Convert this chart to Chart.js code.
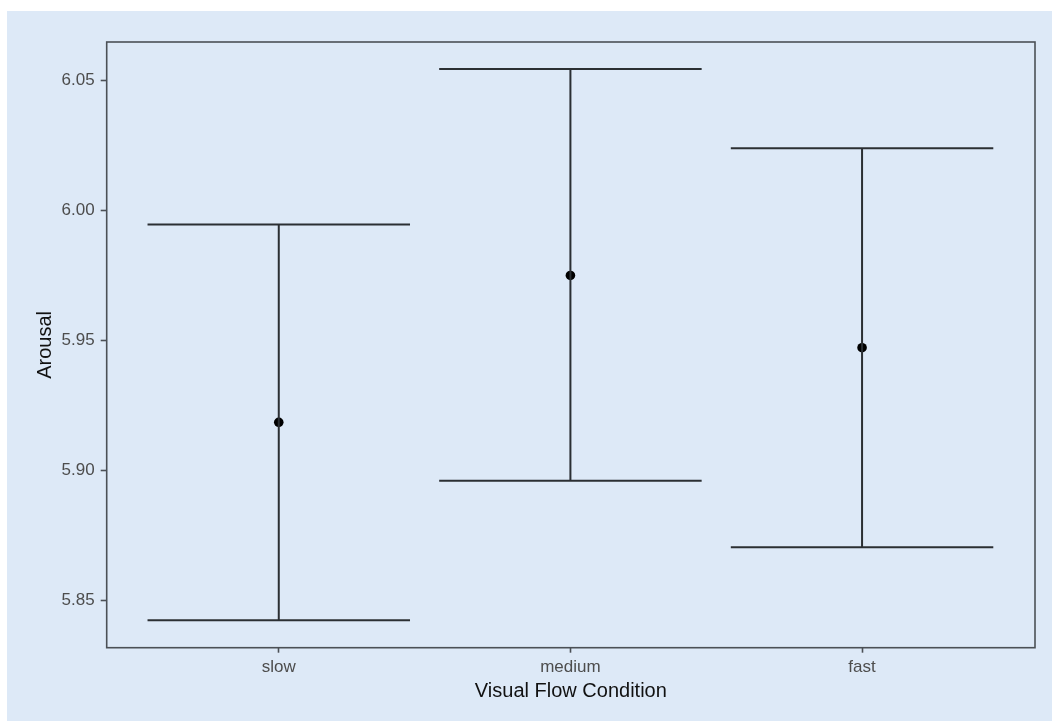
<!DOCTYPE html>
<html>
<head>
<meta charset="utf-8">
<script src="https://cdn.jsdelivr.net/npm/chart.js@4/dist/chart.umd.min.js"></script>
<style>
  html, body { margin: 0; padding: 0; background: #ffffff; }
  #wrap { position: absolute; left: 7px; top: 11px; width: 1045px; height: 710px; background: #dde9f7; }
  canvas { display: block; }
</style>
</head>
<body>
<div id="wrap"><canvas id="c" width="1045" height="710"></canvas></div>
<script>
const categories = ['slow', 'medium', 'fast'];
const means = [5.9185, 5.9750, 5.9472];
const lower = [5.8424, 5.8960, 5.8704];
const upper = [5.9946, 6.0544, 6.0239];
const yTicks = [5.85, 5.90, 5.95, 6.00, 6.05];
const xTitle = 'Visual Flow Condition';
const yTitle = 'Arousal';

const capHalf = 0.45;
const lineColor = '#2b2f33';
const datasets = [];
categories.forEach((c, i) => {
  const x = i + 1;
  datasets.push({ type: 'line', data: [{x: x, y: lower[i]}, {x: x, y: upper[i]}], borderColor: lineColor, borderWidth: 2, pointRadius: 0, fill: false });
  datasets.push({ type: 'line', data: [{x: x - capHalf, y: upper[i]}, {x: x + capHalf, y: upper[i]}], borderColor: lineColor, borderWidth: 2, pointRadius: 0, fill: false });
  datasets.push({ type: 'line', data: [{x: x - capHalf, y: lower[i]}, {x: x + capHalf, y: lower[i]}], borderColor: lineColor, borderWidth: 2, pointRadius: 0, fill: false });
});
datasets.push({ type: 'scatter', data: means.map((m, i) => ({x: i + 1, y: m})), backgroundColor: '#000000', borderColor: '#000000', pointRadius: 4.8, pointBorderWidth: 0 });

const panelBorder = {
  id: 'panelBorder',
  afterDatasetsDraw(chart) {
    const {ctx, chartArea: a} = chart;
    ctx.save();
    ctx.strokeStyle = '#4b5056';
    ctx.lineWidth = 1.6;
    ctx.strokeRect(a.left, a.top, a.right - a.left, a.bottom - a.top);
    ctx.restore();
  }
};

const fontFam = 'Liberation Sans, Arial, sans-serif';

new Chart(document.getElementById('c'), {
  data: { datasets },
  options: {
    responsive: false,
    animation: false,
    events: [],
    layout: { padding: { left: 0, top: 31, right: 17, bottom: 0 } },
    plugins: { legend: { display: false }, tooltip: { enabled: false } },
    scales: {
      x: {
        type: 'linear',
        min: 0.41,
        max: 3.593,
        afterBuildTicks: (s) => { s.ticks = categories.map((c, i) => ({ value: i + 1 })); },
        afterFit: (s) => { s.height = 73.3; },
        ticks: {
          autoSkip: false,
          maxRotation: 0,
          padding: 4,
          color: '#4d4d4d',
          font: { family: fontFam, size: 17 },
          callback: (v) => categories[Math.round(v) - 1]
        },
        grid: { drawOnChartArea: false, drawTicks: true, tickLength: 5, tickColor: '#4b5056', tickWidth: 1.6 },
        border: { display: false },
        title: { display: true, text: xTitle, color: '#111111', font: { family: fontFam, size: 20 }, padding: { top: 0, bottom: 17.3 } }
      },
      y: {
        type: 'linear',
        min: 5.8318,
        max: 6.0648,
        afterBuildTicks: (s) => { s.ticks = yTicks.map(v => ({ value: v })); },
        afterFit: (s) => { s.width = 99.7; },
        ticks: {
          padding: 6,
          color: '#4d4d4d',
          font: { family: fontFam, size: 17 },
          callback: (v) => Number(v).toFixed(2)
        },
        grid: { drawOnChartArea: false, drawTicks: true, tickLength: 6, tickColor: '#4b5056', tickWidth: 1.6 },
        border: { display: false },
        title: { display: true, text: yTitle, color: '#111111', font: { family: fontFam, size: 20 }, padding: { top: 26.5, bottom: 0 } }
      }
    }
  },
  plugins: [panelBorder]
});
</script>
</body>
</html>
